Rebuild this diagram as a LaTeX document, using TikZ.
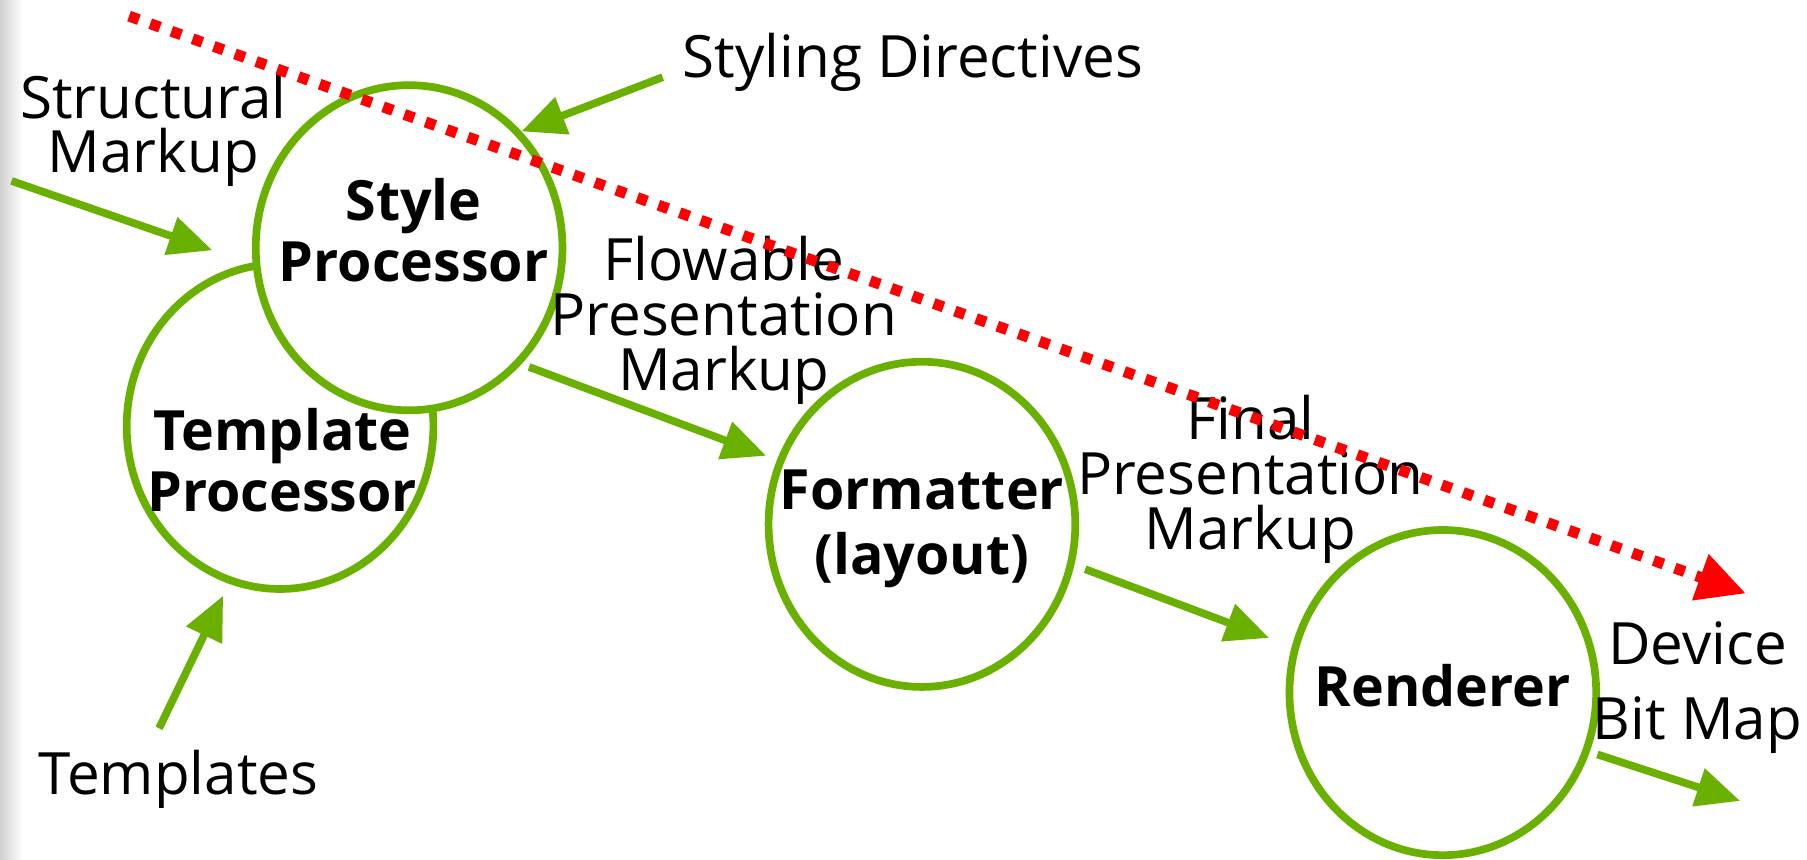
\documentclass[tikz,border=0pt]{standalone}
\usepackage{fontspec}
\setmainfont{Open Sans}
\usetikzlibrary{shapes.geometric,arrows.meta}
\definecolor{procgreen}{RGB}{106,176,0}
\definecolor{boundred}{RGB}{255,0,0}
\tikzset{
  proc/.style={ellipse, draw=procgreen, line width=1.9pt, fill=white,
    minimum width=2.66cm, minimum height=2.82cm, inner sep=0pt},
  proclbl/.style={align=center, inner sep=0pt, font=\fontsize{13.7}{15}\selectfont\bfseries},
  datalbl/.style={align=center, inner sep=0pt, font=\fontsize{14.4}{13.5}\selectfont},
  flow/.style={draw=procgreen, line width=1.9pt, -{Triangle[length=0.38cm,width=0.33cm]}},
  bound/.style={draw=boundred, line width=2.7pt, dash pattern=on 0.09cm off 0.105cm,
    -{Triangle[length=0.42cm,width=0.4cm]}}
}
\begin{document}
\begin{tikzpicture}[x=0.01cm,y=-0.01cm]
	\useasboundingbox (0,0) rectangle (1568,746);
	\shade[left color=black!18, right color=white] (0,0) rectangle (20,746); % scan edge
	% processors
	\node[proc] (tp) at (243,370) {};
	\node[proc] (sp) at (355,215) {};
	\node[proc] (fmt) at (800,455) {};
	\node[proc] (rd) at (1252,601) {};
	\node[proclbl] (splbl) at (359,200) {Style\\Processor};
	\node[proclbl] (tplbl) at (245,399) {Template\\Processor};
	\node[proclbl,font=\fontsize{13.7}{16}\selectfont\bfseries] (fmtlbl) at (800,459) {Formatter\\(layout)};
	\node[proclbl] (rdlbl) at (1252,595) {Renderer};
	% data
	\node[datalbl] (smk) at (133,113) {Structural\\Markup};
	\node[datalbl] (sdir) at (792,54) {Styling Directives};
	\node[datalbl] (tpls) at (155,676) {Templates};
	\node[datalbl] (fpm) at (628,278) {Flowable\\Presentation\\Markup};
	\node[datalbl] (npm) at (1085,416) {Final\\Presentation\\Markup};
	\node[datalbl,font=\fontsize{14.4}{18.5}\selectfont] (dbm) at (1473,597) {Device\\Bit Map};
	% free ends
	\coordinate (smkend) at (10,157);
	\coordinate (sdirend) at (575,67);
	\coordinate (tplsend) at (138,632);
	\coordinate (dbmend) at (1510,695);
	\coordinate (bnda) at (112,14);
	\coordinate (bndb) at (1515,515);
	% flows
	\draw[flow, shorten >=0.37cm] (smkend) -- (sp.186);
	\draw[flow] (sdirend) -- (sp.46);
	\draw[flow, shorten >=0.115cm] (tplsend) -- (tp.252);
	\draw[flow, shorten <=0.07cm, shorten >=0.10cm] (sp.-46) -- (fmt.156);
	\draw[flow, shorten <=0.10cm, shorten >=0.21cm] (fmt.-15) -- (rd.163);
	\draw[flow, shorten <=0.07cm] (rd.-22) -- (dbmend);
	% red boundary
	\draw[bound] (bnda) -- (bndb);
\end{tikzpicture}
\end{document}
